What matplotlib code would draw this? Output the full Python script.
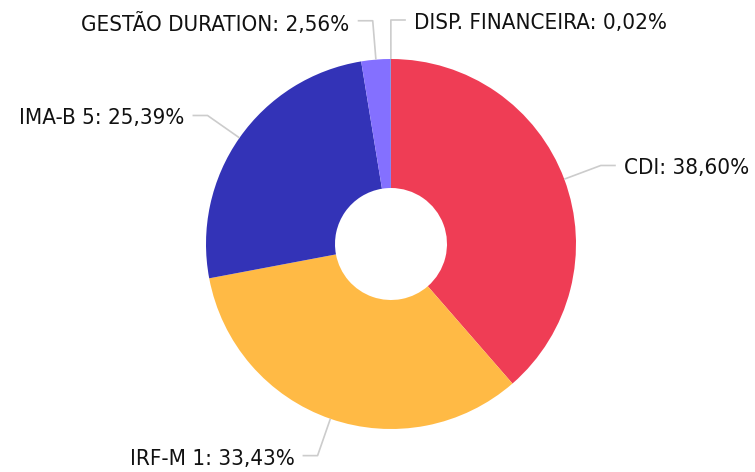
import numpy as np
import matplotlib
matplotlib.use("Agg")
import matplotlib.pyplot as plt

# portfolio allocation (%)
labels = ["CDI", "IRF-M 1", "IMA-B 5", "GESTÃO DURATION", "DISP. FINANCEIRA"]
values = [38.60, 33.43, 25.39, 2.56, 0.02]
colors = ["#EF3D55", "#FFBA45", "#3333B7", "#8470FF", "#3FB27F"]
# which side the label sits on (tiny last slice is pushed right, like the original)
sides = [1, -1, -1, -1, 1]

W, H = 755, 472
CX, CY = 391, H - 244
R_OUT, R_IN = 185, 56
R_ELBOW = 224
SEG = 15
GAP = 8
LINE_COLOR = "#CCCCCC"

fig = plt.figure(figsize=(W / 100, H / 100), dpi=100)
ax = fig.add_axes([0, 0, 1, 1])

wedges, _ = ax.pie(
    values,
    colors=colors,
    startangle=90,
    counterclock=False,
    radius=R_OUT,
    center=(CX, CY),
    wedgeprops=dict(width=R_OUT - R_IN, linewidth=0),
    frame=True,
)
ax.set_xlim(0, W)
ax.set_ylim(0, H)
ax.axis("off")

for w, lab, v, side in zip(wedges, labels, values, sides):
    ang = np.deg2rad((w.theta1 + w.theta2) / 2)
    c, s = np.cos(ang), np.sin(ang)
    x0, y0 = CX + R_OUT * c, CY + R_OUT * s
    x1, y1 = CX + R_ELBOW * c, CY + R_ELBOW * s
    x2 = x1 + side * SEG
    ax.plot([x0, x1, x2], [y0, y1, y1], color=LINE_COLOR, lw=1.2,
            solid_capstyle="butt", zorder=1)
    pct = f"{v:.2f}".replace(".", ",")
    ax.text(x2 + side * GAP, y1 - 3, f"{lab}: {pct}%",
            ha="left" if side > 0 else "right",
            va="center", fontsize=16, family="DejaVu Sans",
            fontstretch="condensed", color="#111111")

fig.savefig("out.png", dpi=100, facecolor="white")
